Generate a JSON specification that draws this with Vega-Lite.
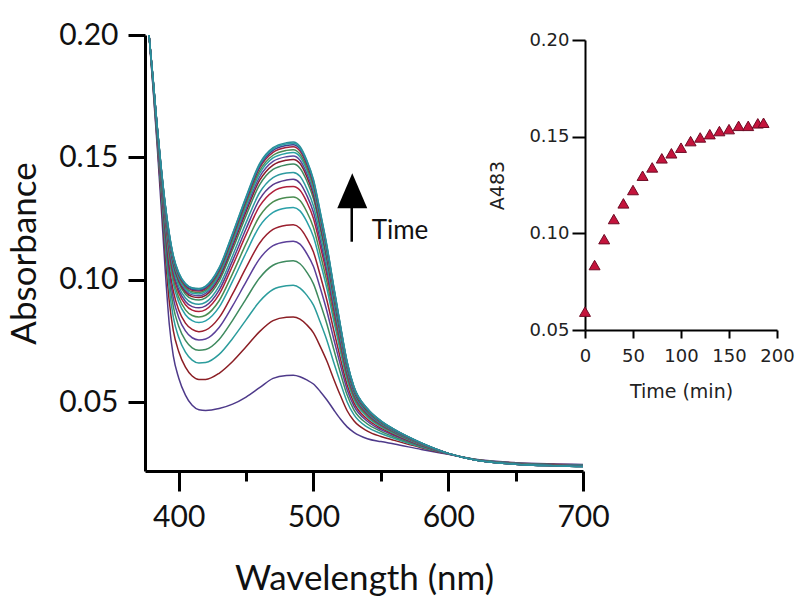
{
  "$schema": "https://vega.github.io/schema/vega-lite/v6.json",
  "width": 632,
  "height": 436,
  "autosize": "none",
  "padding": {"left": 145, "top": 35, "right": 23, "bottom": 136},
  "background": "white",
  "config": {
    "view": {"stroke": null},
    "axis": {"grid": false, "domainColor": "#000", "tickColor": "#000", "labelColor": "#111", "titleColor": "#111", "titleFontWeight": "normal"}
  },
  "resolve": {
    "scale": {"x": "independent", "y": "independent"},
    "axis": {"x": "independent", "y": "independent"}
  },
  "layer": [
    {
      "layer": [
        {
          "data": {"values": [
            {"w":378,"c00":0.2,"c01":0.2,"c02":0.2,"c03":0.2,"c04":0.2,"c05":0.2,"c06":0.2,"c07":0.2,"c08":0.2,"c09":0.2,"c10":0.2,"c11":0.2,"c12":0.2,"c13":0.2,"c14":0.2,"c15":0.2,"c16":0.2,"c17":0.2,"c18":0.2,"c19":0.2},
            {"w":381,"c00":0.178,"c01":0.179,"c02":0.1795,"c03":0.18,"c04":0.1803,"c05":0.1806,"c06":0.1809,"c07":0.1811,"c08":0.1812,"c09":0.1814,"c10":0.1815,"c11":0.1816,"c12":0.1817,"c13":0.1818,"c14":0.1818,"c15":0.1819,"c16":0.1819,"c17":0.182,"c18":0.182,"c19":0.182},
            {"w":384,"c00":0.155,"c01":0.157,"c02":0.1581,"c03":0.1589,"c04":0.1596,"c05":0.1602,"c06":0.1608,"c07":0.1611,"c08":0.1615,"c09":0.1617,"c10":0.162,"c11":0.1622,"c12":0.1624,"c13":0.1625,"c14":0.1626,"c15":0.1627,"c16":0.1628,"c17":0.1629,"c18":0.163,"c19":0.163},
            {"w":387,"c00":0.13,"c01":0.134,"c02":0.1362,"c03":0.1378,"c04":0.1392,"c05":0.1403,"c06":0.1415,"c07":0.1422,"c08":0.143,"c09":0.1434,"c10":0.1439,"c11":0.1445,"c12":0.1448,"c13":0.145,"c14":0.1453,"c15":0.1455,"c16":0.1457,"c17":0.1458,"c18":0.1459,"c19":0.146},
            {"w":390,"c00":0.104,"c01":0.1108,"c02":0.1144,"c03":0.1172,"c04":0.1195,"c05":0.1214,"c06":0.1234,"c07":0.1247,"c08":0.1259,"c09":0.1267,"c10":0.1275,"c11":0.1284,"c12":0.129,"c13":0.1294,"c14":0.1298,"c15":0.1301,"c16":0.1305,"c17":0.1307,"c18":0.1309,"c19":0.131},
            {"w":393,"c00":0.082,"c01":0.0913,"c02":0.0963,"c03":0.1001,"c04":0.1033,"c05":0.1059,"c06":0.1086,"c07":0.1103,"c08":0.112,"c09":0.1131,"c10":0.1142,"c11":0.1155,"c12":0.1162,"c13":0.1168,"c14":0.1173,"c15":0.1178,"c16":0.1183,"c17":0.1186,"c18":0.1188,"c19":0.119},
            {"w":396,"c00":0.069,"c01":0.0793,"c02":0.0848,"c03":0.0891,"c04":0.0926,"c05":0.0955,"c06":0.0985,"c07":0.1004,"c08":0.1022,"c09":0.1034,"c10":0.1047,"c11":0.1061,"c12":0.1069,"c13":0.1075,"c14":0.1082,"c15":0.1087,"c16":0.1092,"c17":0.1095,"c18":0.1098,"c19":0.11},
            {"w":400,"c00":0.06,"c01":0.0708,"c02":0.0766,"c03":0.0811,"c04":0.0847,"c05":0.0877,"c06":0.091,"c07":0.0929,"c08":0.0948,"c09":0.0961,"c10":0.0974,"c11":0.0989,"c12":0.0998,"c13":0.1004,"c14":0.1011,"c15":0.1016,"c16":0.1021,"c17":0.1025,"c18":0.1028,"c19":0.103},
            {"w":405,"c00":0.053,"c01":0.0644,"c02":0.0705,"c03":0.0753,"c04":0.0792,"c05":0.0824,"c06":0.0858,"c07":0.0878,"c08":0.0899,"c09":0.0912,"c10":0.0926,"c11":0.0942,"c12":0.0951,"c13":0.0958,"c14":0.0965,"c15":0.097,"c16":0.0976,"c17":0.098,"c18":0.0983,"c19":0.0985},
            {"w":410,"c00":0.0488,"c01":0.0608,"c02":0.0673,"c03":0.0723,"c04":0.0764,"c05":0.0798,"c06":0.0834,"c07":0.0855,"c08":0.0877,"c09":0.0891,"c10":0.0906,"c11":0.0922,"c12":0.0932,"c13":0.0939,"c14":0.0946,"c15":0.0952,"c16":0.0958,"c17":0.0962,"c18":0.0966,"c19":0.0968},
            {"w":415,"c00":0.047,"c01":0.0594,"c02":0.0661,"c03":0.0713,"c04":0.0755,"c05":0.0789,"c06":0.0826,"c07":0.0849,"c08":0.0871,"c09":0.0886,"c10":0.0901,"c11":0.0918,"c12":0.0928,"c13":0.0935,"c14":0.0943,"c15":0.0949,"c16":0.0955,"c17":0.0959,"c18":0.0963,"c19":0.0965},
            {"w":420,"c00":0.0467,"c01":0.0594,"c02":0.0663,"c03":0.0716,"c04":0.0759,"c05":0.0795,"c06":0.0833,"c07":0.0856,"c08":0.0879,"c09":0.0894,"c10":0.0909,"c11":0.0927,"c12":0.0937,"c13":0.0945,"c14":0.0952,"c15":0.0958,"c16":0.0965,"c17":0.0969,"c18":0.0973,"c19":0.0975},
            {"w":430,"c00":0.0475,"c01":0.0619,"c02":0.0696,"c03":0.0757,"c04":0.0806,"c05":0.0846,"c06":0.0889,"c07":0.0915,"c08":0.0941,"c09":0.0958,"c10":0.0975,"c11":0.0995,"c12":0.1007,"c13":0.1016,"c14":0.1024,"c15":0.1031,"c16":0.1039,"c17":0.1043,"c18":0.1047,"c19":0.105},
            {"w":440,"c00":0.0493,"c01":0.0667,"c02":0.0761,"c03":0.0835,"c04":0.0894,"c05":0.0943,"c06":0.0995,"c07":0.1026,"c08":0.1058,"c09":0.1079,"c10":0.1099,"c11":0.1124,"c12":0.1138,"c13":0.1148,"c14":0.1159,"c15":0.1167,"c16":0.1176,"c17":0.1182,"c18":0.1187,"c19":0.119},
            {"w":450,"c00":0.0522,"c01":0.0727,"c02":0.0837,"c03":0.0923,"c04":0.0992,"c05":0.105,"c06":0.1111,"c07":0.1148,"c08":0.1185,"c09":0.1209,"c10":0.1234,"c11":0.1262,"c12":0.1279,"c13":0.1291,"c14":0.1303,"c15":0.1313,"c16":0.1324,"c17":0.133,"c18":0.1336,"c19":0.134},
            {"w":460,"c00":0.056,"c01":0.0789,"c02":0.0912,"c03":0.1008,"c04":0.1086,"c05":0.115,"c06":0.1219,"c07":0.126,"c08":0.1301,"c09":0.1329,"c10":0.1356,"c11":0.1388,"c12":0.1406,"c13":0.142,"c14":0.1434,"c15":0.1445,"c16":0.1457,"c17":0.1464,"c18":0.147,"c19":0.1475},
            {"w":470,"c00":0.0598,"c01":0.0834,"c02":0.0961,"c03":0.106,"c04":0.114,"c05":0.1206,"c06":0.1276,"c07":0.1319,"c08":0.1361,"c09":0.1389,"c10":0.1418,"c11":0.1451,"c12":0.1469,"c13":0.1484,"c14":0.1498,"c15":0.1509,"c16":0.1521,"c17":0.1529,"c18":0.1535,"c19":0.154},
            {"w":480,"c00":0.061,"c01":0.0848,"c02":0.0976,"c03":0.1076,"c04":0.1156,"c05":0.1223,"c06":0.1294,"c07":0.1337,"c08":0.138,"c09":0.1408,"c10":0.1437,"c11":0.147,"c12":0.1489,"c13":0.1503,"c14":0.1517,"c15":0.1529,"c16":0.1541,"c17":0.1549,"c18":0.1555,"c19":0.156},
            {"w":485,"c00":0.0611,"c01":0.0849,"c02":0.0978,"c03":0.1078,"c04":0.1158,"c05":0.1225,"c06":0.1296,"c07":0.1339,"c08":0.1382,"c09":0.1411,"c10":0.1439,"c11":0.1473,"c12":0.1492,"c13":0.1506,"c14":0.152,"c15":0.1532,"c16":0.1544,"c17":0.1552,"c18":0.1558,"c19":0.1563},
            {"w":490,"c00":0.0605,"c01":0.084,"c02":0.0967,"c03":0.1066,"c04":0.1146,"c05":0.1211,"c06":0.1282,"c07":0.1324,"c08":0.1366,"c09":0.1395,"c10":0.1423,"c11":0.1456,"c12":0.1475,"c13":0.1489,"c14":0.1503,"c15":0.1514,"c16":0.1526,"c17":0.1534,"c18":0.154,"c19":0.1545},
            {"w":495,"c00":0.0592,"c01":0.0817,"c02":0.0938,"c03":0.1032,"c04":0.1108,"c05":0.1171,"c06":0.1239,"c07":0.1279,"c08":0.1319,"c09":0.1346,"c10":0.1373,"c11":0.1405,"c12":0.1423,"c13":0.1436,"c14":0.145,"c15":0.146,"c16":0.1472,"c17":0.1479,"c18":0.1486,"c19":0.149},
            {"w":500,"c00":0.0575,"c01":0.0784,"c02":0.0897,"c03":0.0984,"c04":0.1055,"c05":0.1114,"c06":0.1176,"c07":0.1214,"c08":0.1251,"c09":0.1276,"c10":0.1302,"c11":0.1331,"c12":0.1347,"c13":0.136,"c14":0.1372,"c15":0.1382,"c16":0.1393,"c17":0.14,"c18":0.1406,"c19":0.141},
            {"w":505,"c00":0.0545,"c01":0.0729,"c02":0.0828,"c03":0.0905,"c04":0.0968,"c05":0.1019,"c06":0.1074,"c07":0.1107,"c08":0.114,"c09":0.1162,"c10":0.1185,"c11":0.121,"c12":0.1225,"c13":0.1236,"c14":0.1247,"c15":0.1256,"c16":0.1265,"c17":0.1271,"c18":0.1276,"c19":0.128},
            {"w":510,"c00":0.051,"c01":0.0668,"c02":0.0753,"c03":0.0819,"c04":0.0872,"c05":0.0916,"c06":0.0964,"c07":0.0992,"c08":0.102,"c09":0.1039,"c10":0.1058,"c11":0.108,"c12":0.1093,"c13":0.1102,"c14":0.1112,"c15":0.1119,"c16":0.1127,"c17":0.1132,"c18":0.1137,"c19":0.114},
            {"w":515,"c00":0.047,"c01":0.0596,"c02":0.0664,"c03":0.0718,"c04":0.076,"c05":0.0796,"c06":0.0834,"c07":0.0856,"c08":0.0879,"c09":0.0894,"c10":0.0909,"c11":0.0927,"c12":0.0937,"c13":0.0945,"c14":0.0952,"c15":0.0958,"c16":0.0965,"c17":0.0969,"c18":0.0973,"c19":0.0975},
            {"w":520,"c00":0.0432,"c01":0.0528,"c02":0.058,"c03":0.062,"c04":0.0652,"c05":0.0679,"c06":0.0708,"c07":0.0725,"c08":0.0742,"c09":0.0754,"c10":0.0765,"c11":0.0779,"c12":0.0786,"c13":0.0792,"c14":0.0798,"c15":0.0802,"c16":0.0807,"c17":0.081,"c18":0.0813,"c19":0.0815},
            {"w":525,"c00":0.04,"c01":0.0466,"c02":0.0502,"c03":0.053,"c04":0.0552,"c05":0.0571,"c06":0.0591,"c07":0.0603,"c08":0.0615,"c09":0.0623,"c10":0.0631,"c11":0.064,"c12":0.0645,"c13":0.0649,"c14":0.0653,"c15":0.0656,"c16":0.066,"c17":0.0662,"c18":0.0664,"c19":0.0665},
            {"w":530,"c00":0.0378,"c01":0.0425,"c02":0.045,"c03":0.047,"c04":0.0486,"c05":0.0499,"c06":0.0513,"c07":0.0521,"c08":0.053,"c09":0.0535,"c10":0.0541,"c11":0.0547,"c12":0.0551,"c13":0.0554,"c14":0.0557,"c15":0.0559,"c16":0.0561,"c17":0.0563,"c18":0.0564,"c19":0.0565},
            {"w":540,"c00":0.0352,"c01":0.0383,"c02":0.0399,"c03":0.0412,"c04":0.0423,"c05":0.0431,"c06":0.0441,"c07":0.0446,"c08":0.0452,"c09":0.0455,"c10":0.0459,"c11":0.0463,"c12":0.0466,"c13":0.0468,"c14":0.047,"c15":0.0471,"c16":0.0473,"c17":0.0474,"c18":0.0474,"c19":0.0475},
            {"w":550,"c00":0.034,"c01":0.0361,"c02":0.0373,"c03":0.0382,"c04":0.0389,"c05":0.0395,"c06":0.0401,"c07":0.0405,"c08":0.0409,"c09":0.0411,"c10":0.0414,"c11":0.0417,"c12":0.0419,"c13":0.042,"c14":0.0421,"c15":0.0422,"c16":0.0423,"c17":0.0424,"c18":0.0425,"c19":0.0425},
            {"w":560,"c00":0.033,"c01":0.0345,"c02":0.0353,"c03":0.0359,"c04":0.0365,"c05":0.0369,"c06":0.0373,"c07":0.0376,"c08":0.0379,"c09":0.038,"c10":0.0382,"c11":0.0384,"c12":0.0386,"c13":0.0386,"c14":0.0387,"c15":0.0388,"c16":0.0389,"c17":0.0389,"c18":0.039,"c19":0.039},
            {"w":580,"c00":0.0308,"c01":0.0315,"c02":0.0318,"c03":0.0321,"c04":0.0324,"c05":0.0325,"c06":0.0327,"c07":0.0329,"c08":0.033,"c09":0.0331,"c10":0.0331,"c11":0.0332,"c12":0.0333,"c13":0.0333,"c14":0.0334,"c15":0.0334,"c16":0.0334,"c17":0.0335,"c18":0.0335,"c19":0.0335},
            {"w":600,"c00":0.0288,"c01":0.0289,"c02":0.029,"c03":0.029,"c04":0.029,"c05":0.0291,"c06":0.0291,"c07":0.0291,"c08":0.0291,"c09":0.0291,"c10":0.0291,"c11":0.0292,"c12":0.0292,"c13":0.0292,"c14":0.0292,"c15":0.0292,"c16":0.0292,"c17":0.0292,"c18":0.0292,"c19":0.0292},
            {"w":620,"c00":0.0268,"c01":0.0267,"c02":0.0267,"c03":0.0267,"c04":0.0266,"c05":0.0266,"c06":0.0266,"c07":0.0266,"c08":0.0266,"c09":0.0265,"c10":0.0265,"c11":0.0265,"c12":0.0265,"c13":0.0265,"c14":0.0265,"c15":0.0265,"c16":0.0265,"c17":0.0265,"c18":0.0265,"c19":0.0265},
            {"w":650,"c00":0.0254,"c01":0.0253,"c02":0.0252,"c03":0.0251,"c04":0.0251,"c05":0.025,"c06":0.025,"c07":0.025,"c08":0.0249,"c09":0.0249,"c10":0.0249,"c11":0.0249,"c12":0.0248,"c13":0.0248,"c14":0.0248,"c15":0.0248,"c16":0.0248,"c17":0.0248,"c18":0.0248,"c19":0.0248},
            {"w":680,"c00":0.0249,"c01":0.0247,"c02":0.0246,"c03":0.0245,"c04":0.0244,"c05":0.0244,"c06":0.0243,"c07":0.0243,"c08":0.0243,"c09":0.0242,"c10":0.0242,"c11":0.0242,"c12":0.0242,"c13":0.0241,"c14":0.0241,"c15":0.0241,"c16":0.0241,"c17":0.0241,"c18":0.0241,"c19":0.0241},
            {"w":700,"c00":0.0247,"c01":0.0245,"c02":0.0244,"c03":0.0243,"c04":0.0242,"c05":0.0241,"c06":0.0241,"c07":0.024,"c08":0.024,"c09":0.024,"c10":0.0239,"c11":0.0239,"c12":0.0239,"c13":0.0239,"c14":0.0238,"c15":0.0238,"c16":0.0238,"c17":0.0238,"c18":0.0238,"c19":0.0238}
          ]},
          "transform": [
            {"fold": ["c00","c01","c02","c03","c04","c05","c06","c07","c08","c09","c10","c11","c12","c13","c14","c15","c16","c17","c18","c19"], "as": ["curve", "a"]}
          ],
          "mark": {"type": "line", "strokeWidth": 1.5, "interpolate": "monotone"},
          "encoding": {
            "x": {
              "field": "w", "type": "quantitative",
              "scale": {"domain": [375, 700], "range": [0, 438], "nice": false, "zero": false},
              "axis": {
                "orient": "bottom",
                "title": "Wavelength (nm)",
                "values": [400, 450, 500, 550, 600, 650, 700],
                "labelExpr": "datum.value % 100 === 0 ? datum.label : ''",
                "tickSize": {"condition": {"test": "datum.value % 100 !== 0", "value": 10}, "value": 20},
                "domainWidth": 3, "tickWidth": 3,
                "labelFont": "Lato", "labelFontSize": 30, "labelPadding": 11,
                "labelFlush": false, "labelOverlap": false,
                "titleFont": "Lato", "titleFontSize": 35, "titlePadding": 29
              }
            },
            "y": {
              "field": "a", "type": "quantitative",
              "scale": {"domain": [0.022, 0.2], "nice": false, "zero": false},
              "axis": {
                "orient": "left",
                "title": "Absorbance",
                "values": [0.05, 0.1, 0.15, 0.2],
                "format": ".2f",
                "tickSize": 17, "domainWidth": 3, "tickWidth": 3,
                "labelFont": "Lato", "labelFontSize": 30, "labelPadding": 10,
                "labelFlush": false, "labelOverlap": false,
                "titleFont": "Lato", "titleFontSize": 35, "titlePadding": 16
              }
            },
            "color": {
              "field": "curve", "type": "nominal", "legend": null,
              "scale": {"range": ["#4e3a8a","#8b1e24","#2b9c9c","#3e8a5e","#5b3f99","#9a1f2e","#2aa0a8","#4a8c50","#b0203a","#5a3a8c","#2e9aa0","#3d8a60","#8a1c2a","#5b4a9c","#2aa3a3","#4a8a55","#a4203c","#3f3f8f","#2b9fa6","#2a8f9a"]}
            }
          }
        },
        {
          "data": {"values": [{"label": "arrow"}]},
          "mark": {"type": "rule", "strokeWidth": 2.5, "color": "#000"},
          "encoding": {"x": {"datum": 528.4}, "y": {"datum": 0.1156}, "y2": {"datum": 0.1306}}
        },
        {
          "data": {"values": [{"label": "arrowhead"}]},
          "mark": {"type": "point", "shape": "M0,-1L0.857,1L-0.857,1Z", "size": 1225, "filled": true, "color": "#000", "opacity": 1},
          "encoding": {"x": {"datum": 528.8}, "y": {"datum": 0.1364}}
        },
        {
          "data": {"values": [{"label": "Time"}]},
          "mark": {"type": "text", "font": "Lato", "fontSize": 26, "align": "left", "baseline": "alphabetic", "color": "#111"},
          "encoding": {"x": {"datum": 543.2}, "y": {"datum": 0.1166}, "text": {"field": "label"}}
        }
      ]
    },
    {
      "data": {"values": [
        {"t": 0, "A483": 0.0595}, {"t": 10, "A483": 0.0836}, {"t": 20, "A483": 0.097}, {"t": 30, "A483": 0.1074},
        {"t": 40, "A483": 0.1155}, {"t": 50, "A483": 0.1224}, {"t": 60, "A483": 0.1298}, {"t": 70, "A483": 0.1341},
        {"t": 80, "A483": 0.1388}, {"t": 90, "A483": 0.1414}, {"t": 100, "A483": 0.1443}, {"t": 110, "A483": 0.1477},
        {"t": 120, "A483": 0.1496}, {"t": 130, "A483": 0.1513}, {"t": 140, "A483": 0.1529}, {"t": 150, "A483": 0.1539},
        {"t": 160, "A483": 0.1556}, {"t": 170, "A483": 0.1556}, {"t": 180, "A483": 0.1569}, {"t": 186, "A483": 0.1572}
      ]},
      "mark": {"type": "point", "shape": "triangle-up", "size": 120, "filled": true, "fill": "#c4143c", "stroke": "#6e0b25", "strokeWidth": 1, "opacity": 1},
      "encoding": {
        "x": {
          "field": "t", "type": "quantitative", "title": "Time (min)",
          "scale": {"domain": [0, 200], "range": [440, 632], "nice": false, "zero": false},
          "axis": {
            "orient": "bottom", "offset": -141,
            "values": [0, 50, 100, 150, 200],
            "tickSize": 8, "domainWidth": 2, "tickWidth": 2,
            "labelFont": "DejaVu Sans", "labelFontSize": 18, "labelPadding": 9, "labelColor": "#222",
            "labelFlush": false, "labelOverlap": false,
            "titleFont": "DejaVu Sans", "titleFontSize": 19, "titlePadding": 17, "titleColor": "#222"
          }
        },
        "y": {
          "field": "A483", "type": "quantitative", "title": "A483",
          "scale": {"domain": [0.05, 0.2], "range": [295, 5], "nice": false, "zero": false},
          "axis": {
            "orient": "left", "offset": -440,
            "values": [0.05, 0.1, 0.15, 0.2], "format": ".2f",
            "tickSize": 13, "domainWidth": 2, "tickWidth": 2,
            "labelFont": "DejaVu Sans", "labelFontSize": 18, "labelPadding": 3, "labelColor": "#222",
            "labelFlush": false, "labelOverlap": false,
            "titleFont": "DejaVu Sans", "titleFontSize": 19, "titlePadding": 21, "titleColor": "#222"
          }
        }
      }
    }
  ]
}
